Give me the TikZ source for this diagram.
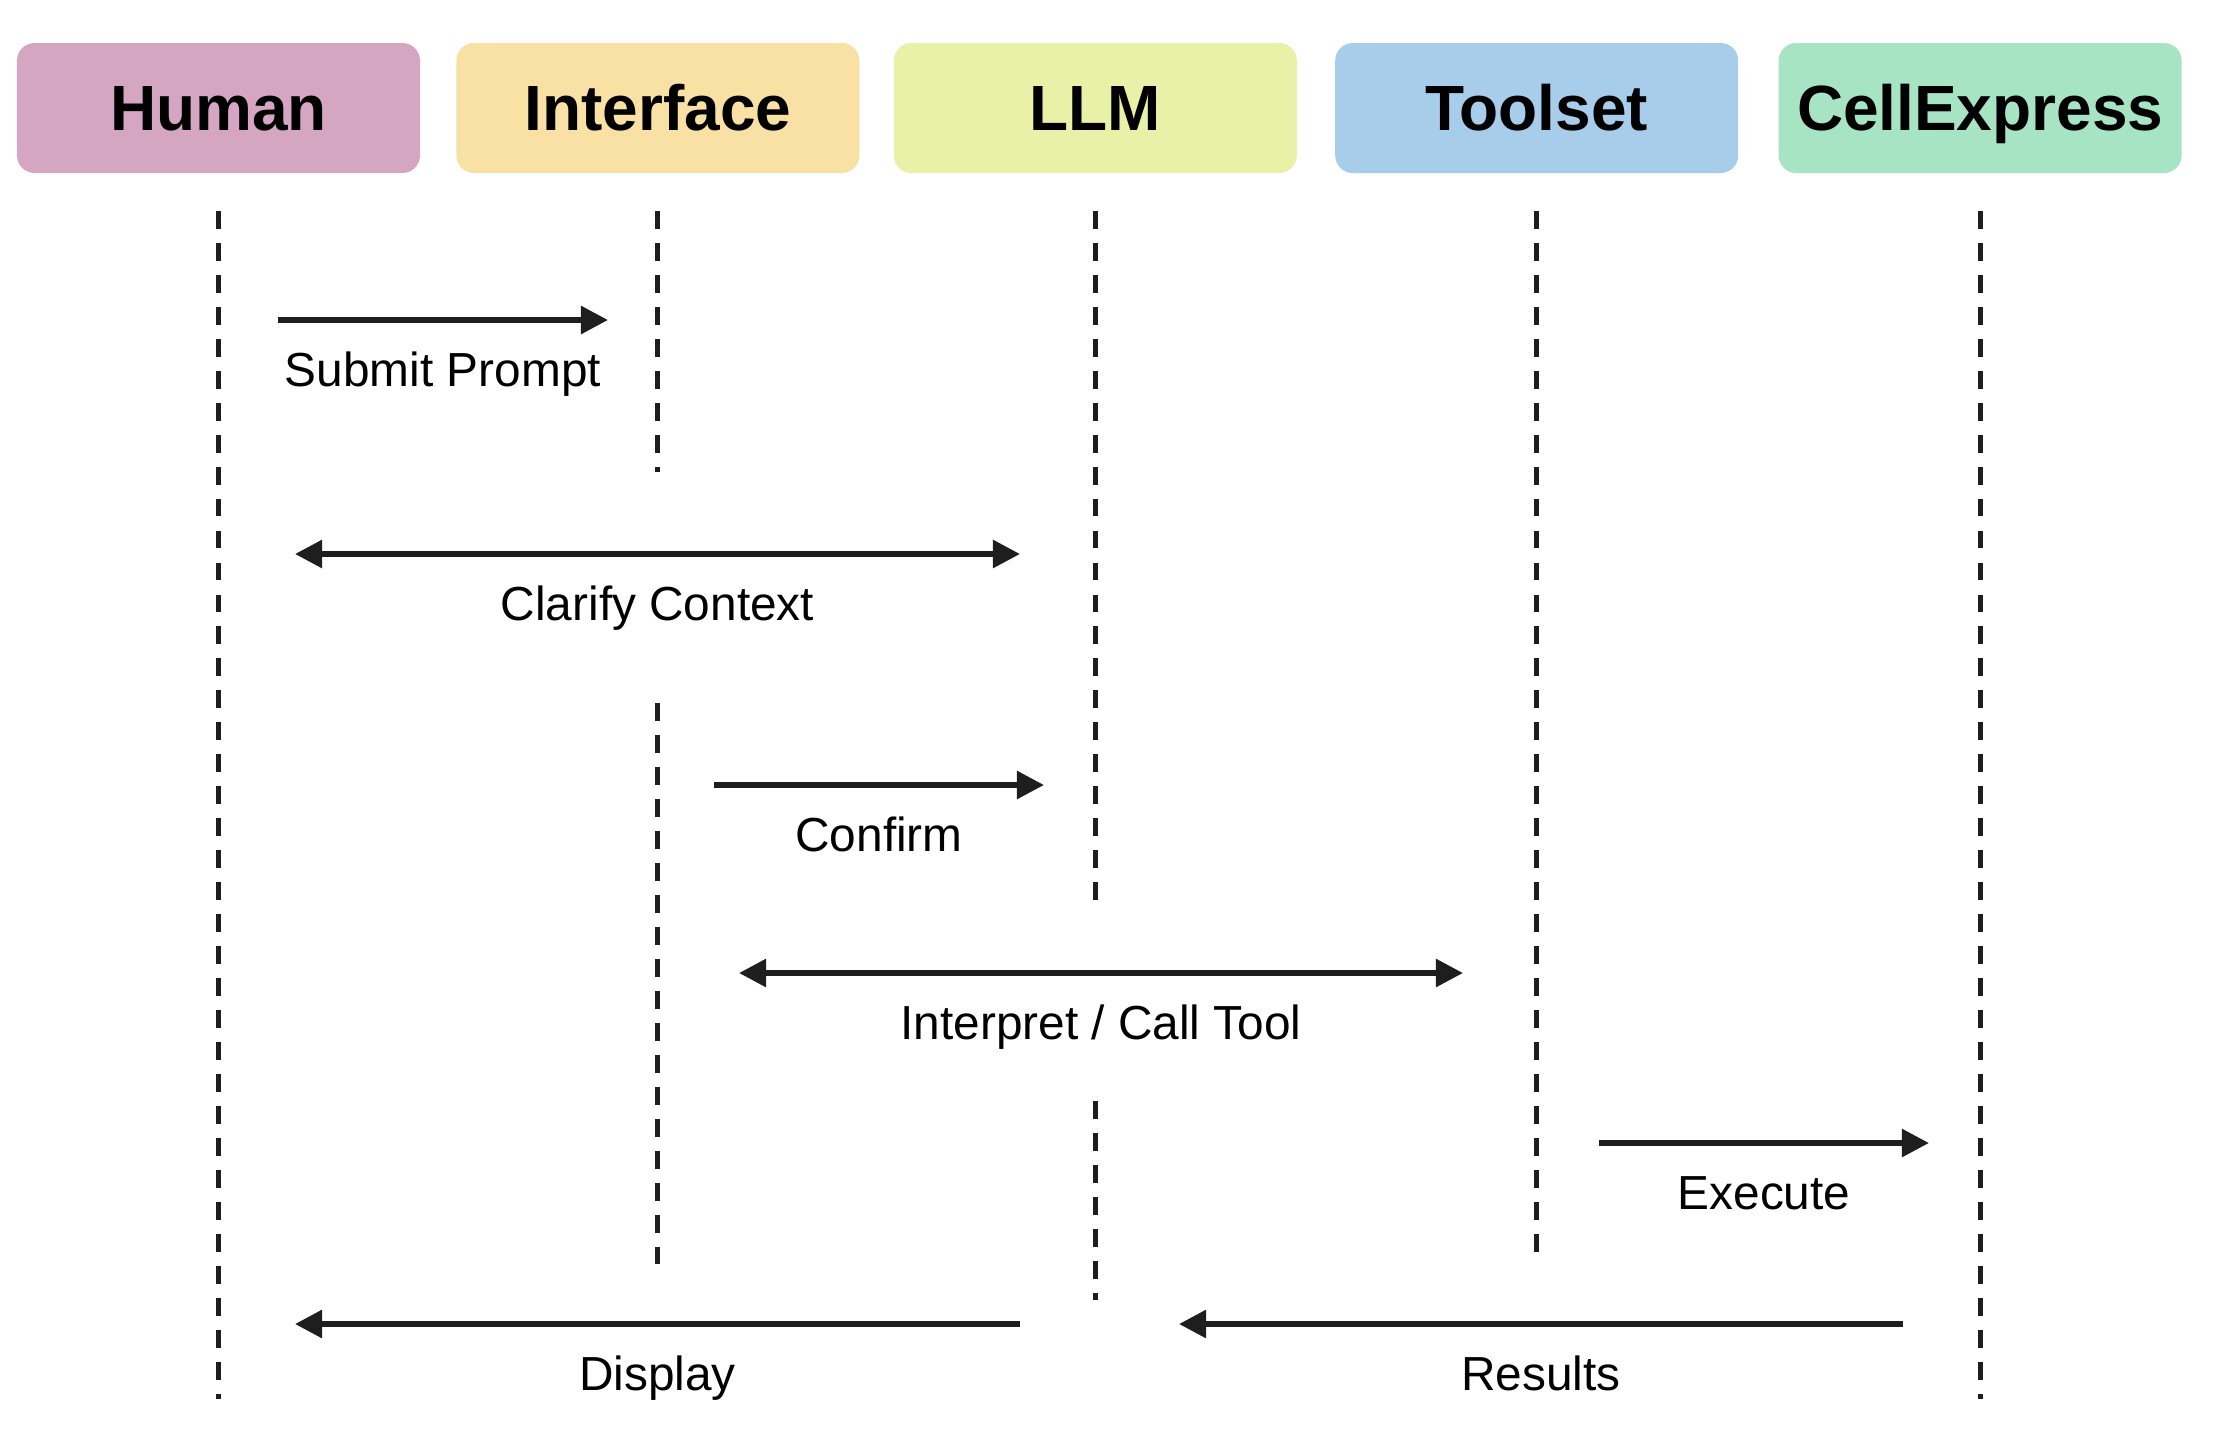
\documentclass[tikz,border=0pt]{standalone}
\usepackage{fontspec}
\setmainfont{Liberation Sans}
\usepackage{tikz}
\usetikzlibrary{positioning,arrows.meta,calc}

\definecolor{humanfill}{HTML}{D5A6C1}
\definecolor{interfacefill}{HTML}{F9E1A6}
\definecolor{llmfill}{HTML}{E9F1A8}
\definecolor{toolsetfill}{HTML}{A8CDEA}
\definecolor{cellfill}{HTML}{A7E4C4}
\definecolor{ink}{HTML}{1E1E1E}

\begin{document}
\begin{tikzpicture}[
  actor/.style={rounded corners=5pt, minimum width=4.03cm, minimum height=1.3cm,
    inner sep=0pt, text height=13pt, text depth=0pt,
    font=\fontsize{18.2}{22}\selectfont\bfseries},
  life/.style={draw=ink, line width=1.4pt, dash pattern=on 5.1pt off 4pt},
  msg/.style={draw=ink, line width=1.6pt, -{Triangle[length=7.7pt,width=7.7pt]}},
  twoway/.style={msg, {Triangle[length=7.7pt,width=7.7pt]}-{Triangle[length=7.7pt,width=7.7pt]}},
  lbl/.style={font=\fontsize{13.6}{16}\selectfont, inner sep=0pt, anchor=base, yshift=-0.66cm}]
  \useasboundingbox (0,0) rectangle (22.27,-14.48);

  % participants
  \node[actor, fill=humanfill] (human) at (2.185,-1.08) {Human};
  \node[actor, fill=interfacefill, right=0.35cm of human] (interface) {Interface};
  \node[actor, fill=llmfill, right=0.33cm of interface] (llm) {LLM};
  \node[actor, fill=toolsetfill, right=0.37cm of llm] (toolset) {Toolset};
  \node[actor, fill=cellfill, right=0.39cm of toolset] (cell) {CellExpress};

  % lifelines
  \path (human.south) ++(0,-0.37) coordinate (human top);
  \path (interface.south) ++(0,-0.37) coordinate (interface top);
  \path (llm.south) ++(0,-0.37) coordinate (llm top);
  \path (toolset.south) ++(0,-0.37) coordinate (toolset top);
  \path (cell.south) ++(0,-0.37) coordinate (cell top);
  \draw[life] (human top) -- (human top |- 0,-13.99);
  \draw[life] (interface top) -- (interface top |- 0,-4.72);
  \draw[life] (interface top |- 0,-7.03) -- (interface top |- 0,-12.64);
  \draw[life] (llm top) -- (llm top |- 0,-9.02);
  \draw[life] (llm top |- 0,-11.01) -- (llm top |- 0,-13.00);
  \draw[life] (toolset top) -- (toolset top |- 0,-12.57);
  \draw[life] (cell top) -- (cell top |- 0,-13.99);

  % messages
  \coordinate (submit from) at (2.78,-3.20);
  \coordinate (submit to) at (6.08,-3.20);
  \draw[msg] (submit from) -- node[lbl, midway] {Submit Prompt} (submit to);

  \coordinate (clarify from) at (2.95,-5.54);
  \coordinate (clarify to) at (10.20,-5.54);
  \draw[twoway] (clarify from) -- node[lbl, midway] {Clarify Context} (clarify to);

  \coordinate (confirm from) at (7.14,-7.85);
  \coordinate (confirm to) at (10.44,-7.85);
  \draw[msg] (confirm from) -- node[lbl, midway] {Confirm} (confirm to);

  \coordinate (call from) at (7.39,-9.73);
  \coordinate (call to) at (14.63,-9.73);
  \draw[twoway] (call from) -- node[lbl, midway] {Interpret / Call Tool} (call to);

  \coordinate (execute from) at (15.99,-11.43);
  \coordinate (execute to) at (19.29,-11.43);
  \draw[msg] (execute from) -- node[lbl, midway] {Execute} (execute to);

  \coordinate (display from) at (10.20,-13.24);
  \coordinate (display to) at (2.95,-13.24);
  \draw[msg] (display from) -- node[lbl, midway] {Display} (display to);

  \coordinate (results from) at (19.03,-13.24);
  \coordinate (results to) at (11.79,-13.24);
  \draw[msg] (results from) -- node[lbl, midway] {Results} (results to);
\end{tikzpicture}
\end{document}
